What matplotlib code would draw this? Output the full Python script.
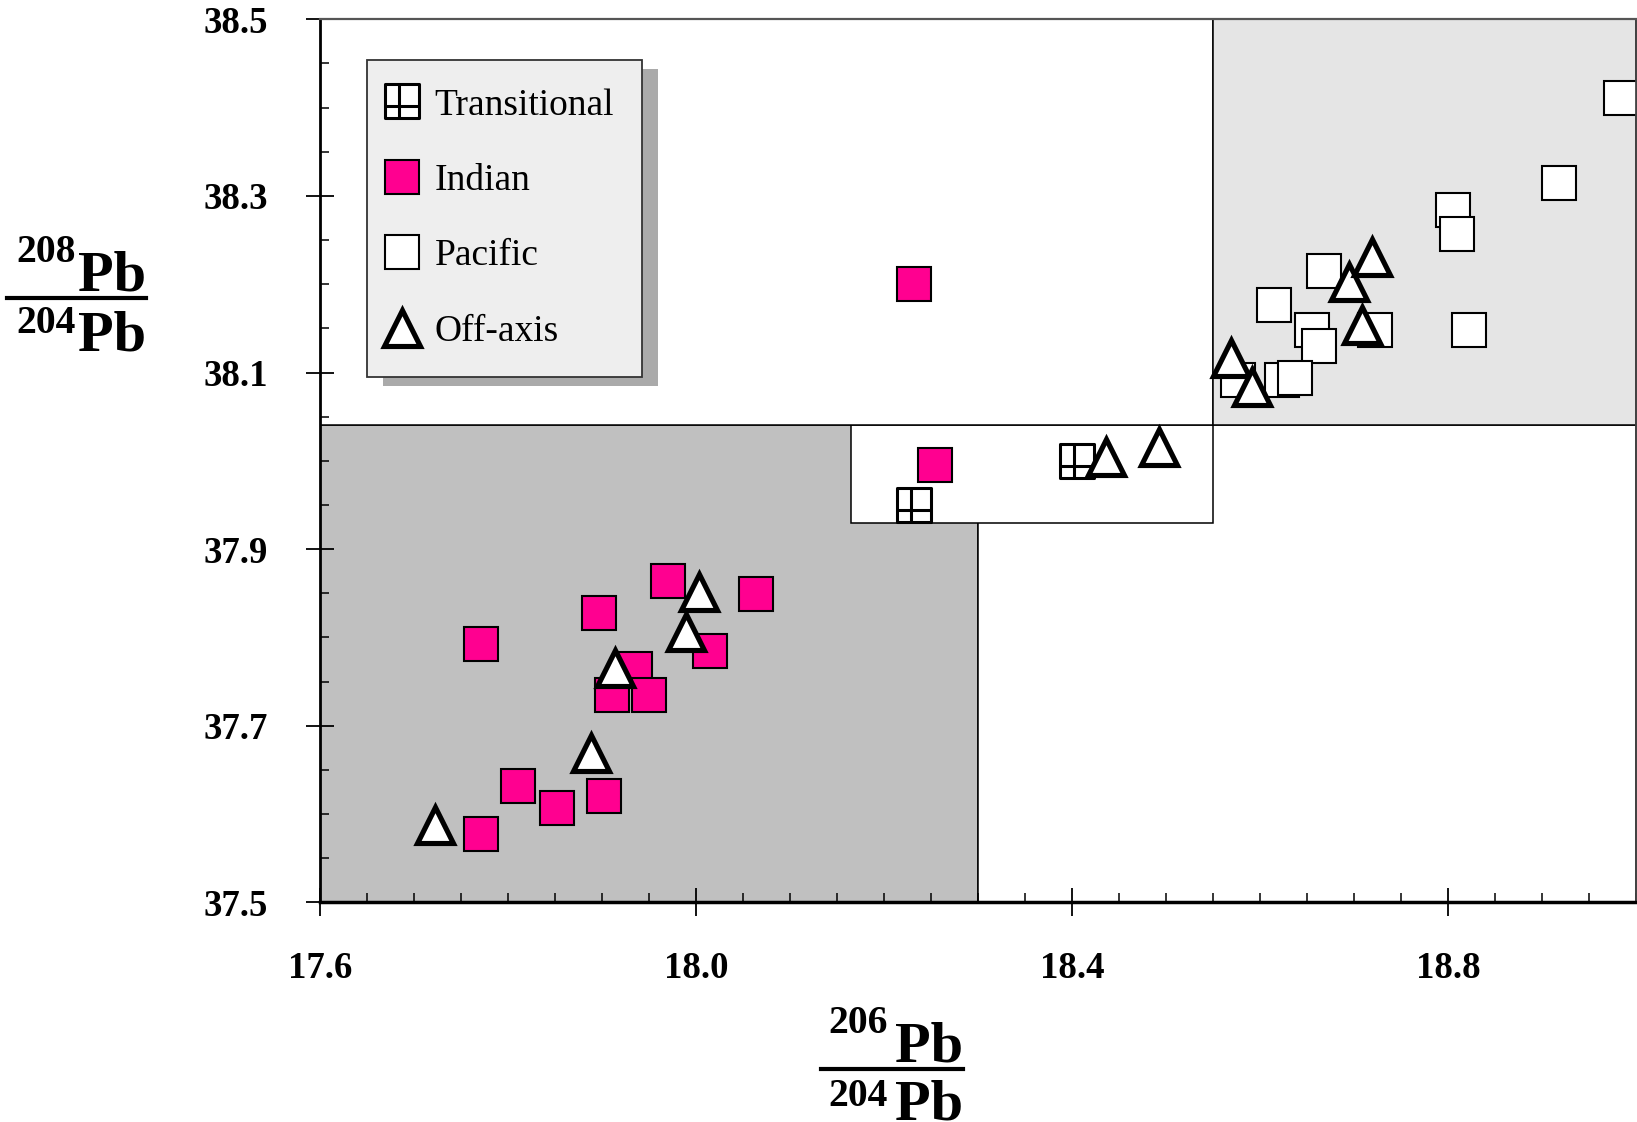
import matplotlib
matplotlib.use('Agg')
import matplotlib.pyplot as plt
from matplotlib.patches import Rectangle
from matplotlib.path import Path
from matplotlib.lines import Line2D

plt.rcParams['font.family'] = ['Liberation Serif', 'DejaVu Serif']

# data (206Pb/204Pb, 208Pb/204Pb)
transitional_x = [18.232, 18.405]
transitional_y = [37.950, 38.000]

indian_x = [18.232, 18.254, 17.970, 18.064, 17.897, 17.771, 18.015, 17.935,
            17.911, 17.950, 17.811, 17.852, 17.902, 17.771]
indian_y = [38.200, 37.995, 37.864, 37.849, 37.828, 37.793, 37.785, 37.764,
            37.735, 37.735, 37.632, 37.607, 37.620, 37.577]

pacific_x = [18.984, 18.918, 18.805, 18.810, 18.668, 18.615, 18.655, 18.663,
             18.722, 18.822, 18.577, 18.623, 18.637]
pacific_y = [38.411, 38.315, 38.284, 38.257, 38.215, 38.176, 38.148, 38.130,
             38.148, 38.148, 38.091, 38.091, 38.094]

offaxis_x = [17.722, 17.888, 17.914, 17.989, 18.003, 18.436, 18.493, 18.569,
             18.592, 18.708, 18.695, 18.719]
offaxis_y = [37.588, 37.669, 37.765, 37.806, 37.851, 38.004, 38.016, 38.116,
             38.084, 38.154, 38.203, 38.231]

# fields drawn behind the points: (x0, x1, y0, y1, colour)
fields = [
    (17.60, 18.30, 37.50, 38.04, '#c0c0c0'),
    (18.30, 19.00, 37.50, 38.04, 'white'),
    (18.165, 18.55, 37.93, 38.04, 'white'),
    (17.60, 18.55, 38.04, 38.50, 'white'),
    (18.55, 19.00, 38.04, 38.50, '#e5e5e5'),
]

W, H = 1637, 1122
fig = plt.figure(figsize=(W / 100, H / 100), dpi=100)
ax = fig.add_axes([320 / W, 1 - 902.3 / H, 1316 / W, 883 / H])

for x0, x1, y0, y1, fc in fields:
    ax.add_patch(Rectangle((x0, y0), x1 - x0, y1 - y0, facecolor=fc,
                           edgecolor='black', linewidth=1.1, zorder=1))

# square with an off-centre cross for transitional samples
grid_sq = Path(
    [(-0.5, -0.5), (0.5, -0.5), (0.5, 0.5), (-0.5, 0.5), (-0.5, -0.5),
     (-0.1, -0.5), (-0.1, 0.5), (-0.5, -0.13), (0.5, -0.13)],
    [Path.MOVETO, Path.LINETO, Path.LINETO, Path.LINETO, Path.CLOSEPOLY,
     Path.MOVETO, Path.LINETO, Path.MOVETO, Path.LINETO])

h_tr, = ax.plot(transitional_x, transitional_y, ls='none', marker=grid_sq,
                ms=25, mfc='white', mec='black', mew=2.2, zorder=3,
                label='Transitional')
h_in, = ax.plot(indian_x, indian_y, ls='none', marker='s', ms=25,
                mfc='#ff0090', mec='black', mew=1.5, zorder=3, label='Indian')
h_pa, = ax.plot(pacific_x, pacific_y, ls='none', marker='s', ms=25,
                mfc='white', mec='black', mew=1.5, zorder=3, label='Pacific')
h_off, = ax.plot(offaxis_x, offaxis_y, ls='none', marker='^', ms=26.5,
                 mfc='white', mec='black', mew=3.7, zorder=4, label='Off-axis')

ax.set_xlim(17.6, 19.0)
ax.set_ylim(37.5, 38.5)

xt = [17.6, 18.0, 18.4, 18.8]
yt = [37.5, 37.7, 37.9, 38.1, 38.3, 38.5]
ax.set_xticks(xt, labels=[f'{v:.1f}' for v in xt], fontweight='bold')
ax.set_yticks(yt, labels=[f'{v:.1f}' for v in yt], fontweight='bold')
ax.set_xticks([17.6 + 0.05 * i for i in range(29)], minor=True)
ax.set_yticks([37.5 + 0.05 * i for i in range(21)], minor=True)
ax.tick_params(which='major', direction='inout', length=19.5, width=1.3,
               labelsize=26.5)
ax.tick_params(axis='x', which='major', pad=25)
ax.tick_params(axis='y', which='major', pad=28)
ax.tick_params(which='minor', direction='in', length=6.5, width=1.1)

ax.spines['left'].set_linewidth(2)
ax.spines['bottom'].set_linewidth(2.5)
ax.spines['top'].set_color('#555555')
ax.spines['top'].set_linewidth(1.6)
ax.spines['right'].set_color('#444444')
ax.spines['right'].set_linewidth(2)
for s in ax.spines.values():
    s.set_zorder(5)

leg = ax.legend(handles=[h_tr, h_in, h_pa, h_off], loc='upper left',
                bbox_to_anchor=(0.0355, 0.954), borderaxespad=0,
                fontsize=27, fancybox=False, framealpha=1,
                facecolor='#eeeeee', edgecolor='#333333',
                borderpad=0.75, labelspacing=1.09, handlelength=0.4,
                handletextpad=0.66)
leg.get_frame().set_linewidth(1.3)
leg.set_zorder(6)

# axis labels written as isotope ratios
bold = dict(fontweight='bold', va='baseline', ha='right')
fig.text(146 / W, 1 - 290 / H, 'Pb', fontsize=42, **bold)
fig.text(76 / W, 1 - 262 / H, '208', fontsize=28.5, **bold)
fig.text(146 / W, 1 - 350 / H, 'Pb', fontsize=42, **bold)
fig.text(76 / W, 1 - 333 / H, '204', fontsize=28.5, **bold)
fig.add_artist(Line2D([7 / W, 146 / W], [1 - 297.5 / H] * 2, color='black',
                      lw=3, transform=fig.transFigure))

fig.text(963 / W, 1 - 1062 / H, 'Pb', fontsize=42, **bold)
fig.text(888 / W, 1 - 1033 / H, '206', fontsize=28.5, **bold)
fig.text(963 / W, 1 - 1119 / H, 'Pb', fontsize=42, **bold)
fig.text(888 / W, 1 - 1106 / H, '204', fontsize=28.5, **bold)
fig.add_artist(Line2D([821 / W, 963 / W], [1 - 1069 / H] * 2, color='black',
                      lw=3, transform=fig.transFigure))

# drop shadow behind the legend box
fig.canvas.draw()
bb = leg.get_window_extent()
inv = ax.transAxes.inverted()
sx0, sy0 = inv.transform((bb.x0 + 16, bb.y0 - 9))
sx1, sy1 = inv.transform((bb.x1 + 16, bb.y1 - 9))
ax.add_patch(Rectangle((sx0, sy0), sx1 - sx0, sy1 - sy0, transform=ax.transAxes,
                       facecolor='#aaaaaa', edgecolor='none', zorder=5.5,
                       clip_on=False))

fig.savefig('out.png', dpi=100)
